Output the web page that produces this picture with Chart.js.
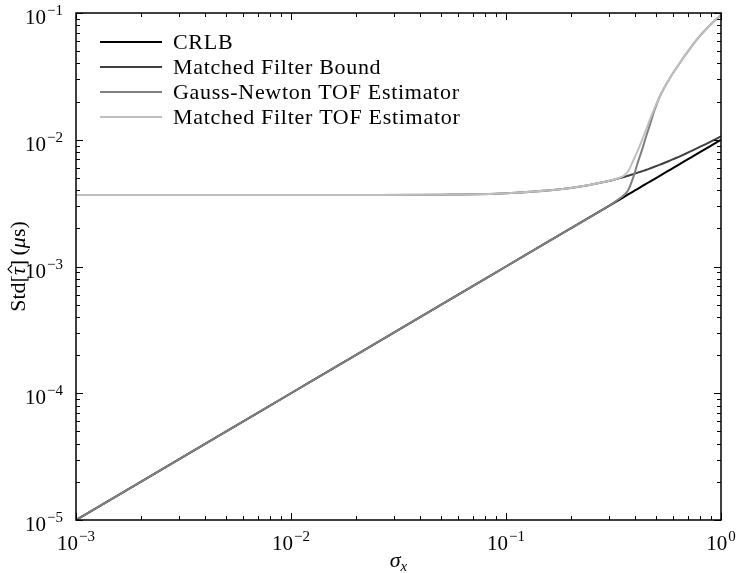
<!DOCTYPE html>
<html>
<head>
<meta charset="utf-8">
<script src="https://cdn.jsdelivr.net/npm/chart.js@4.4.1/dist/chart.umd.min.js"></script>
<style>
  html, body { margin: 0; padding: 0; background: #fff; }
  #wrap { width: 736px; height: 573px; }
</style>
</head>
<body>
<div id="wrap"><canvas id="chart" width="736" height="573"></canvas></div>
<script>
// sigma_x sample points (shared by all four series)
const sigmaX = [0.001, 0.002, 0.005, 0.01, 0.02, 0.05, 0.1, 0.2, 0.3, 0.33, 0.35, 0.37, 0.39,
  0.41, 0.43, 0.45, 0.47, 0.49, 0.51, 0.54, 0.57, 0.6, 0.64, 0.68, 0.73, 0.78, 0.84, 0.9, 0.95, 1.0];

// Std[tau] in microseconds
const crlb = [1e-5, 2e-5, 5e-5, 1e-4, 2e-4, 5e-4, 1e-3, 2e-3, 3e-3, 3.3e-3, 3.5e-3, 3.7e-3, 3.9e-3,
  4.1e-3, 4.3e-3, 4.5e-3, 4.7e-3, 4.9e-3, 5.1e-3, 5.4e-3, 5.7e-3, 6e-3, 6.4e-3, 6.8e-3, 7.3e-3, 7.8e-3, 8.4e-3, 9e-3, 9.5e-3, 1.0e-2];
const mfBound = [3.66e-3, 3.66e-3, 3.66e-3, 3.66e-3, 3.665e-3, 3.69e-3, 3.79e-3, 4.17e-3, 4.73e-3, 4.93e-3, 5.06e-3, 5.2e-3, 5.35e-3,
  5.5e-3, 5.65e-3, 5.8e-3, 5.96e-3, 6.12e-3, 6.28e-3, 6.52e-3, 6.77e-3, 7.03e-3, 7.37e-3, 7.72e-3, 8.17e-3, 8.62e-3, 9.16e-3, 9.72e-3, 1.018e-2, 1.065e-2];
const gaussNewton = [1e-5, 2e-5, 5e-5, 1e-4, 2e-4, 5e-4, 1e-3, 2e-3, 3e-3, 3.35e-3, 3.6e-3, 4.0e-3, 5.0e-3,
  6.6e-3, 8.4e-3, 1.08e-2, 1.36e-2, 1.7e-2, 2.04e-2, 2.5e-2, 2.94e-2, 3.39e-2, 3.98e-2, 4.63e-2, 5.45e-2, 6.31e-2, 7.26e-2, 8.19e-2, 8.93e-2, 9.64e-2];
const mfTof = [3.66e-3, 3.66e-3, 3.66e-3, 3.66e-3, 3.665e-3, 3.69e-3, 3.79e-3, 4.17e-3, 4.73e-3, 4.95e-3, 5.15e-3, 5.65e-3, 6.8e-3,
  8.2e-3, 1.0e-2, 1.22e-2, 1.48e-2, 1.76e-2, 2.06e-2, 2.5e-2, 2.94e-2, 3.39e-2, 3.98e-2, 4.63e-2, 5.45e-2, 6.31e-2, 7.26e-2, 8.19e-2, 8.93e-2, 9.64e-2];

const seriesLabels = ['CRLB', 'Matched Filter Bound', 'Gauss-Newton TOF Estimator', 'Matched Filter TOF Estimator'];
const seriesColors = ['#000000', '#404040', '#808080', '#bfbfbf'];

// decade exponents used for tick labels
const xTickExps = [-3, -2, -1, 0];
const yTickExps = [-5, -4, -3, -2, -1];

const SERIF = '"Liberation Serif", "Times New Roman", serif';

function toPoints(ys) {
  return sigmaX.map((x, i) => ({ x, y: ys[i] }));
}

function drawPow(ctx, exp, x, baseY, align) {
  const base = '10';
  const sup = (exp < 0 ? '\u2212' : '') + Math.abs(exp);
  ctx.font = `21px ${SERIF}`;
  const wb = ctx.measureText(base).width;
  ctx.font = `15px ${SERIF}`;
  const ws = ctx.measureText(sup).width;
  const total = wb + 1 + ws;
  const left = align === 'right' ? x - total : x - total / 2;
  ctx.textAlign = 'left';
  ctx.textBaseline = 'alphabetic';
  ctx.font = `21px ${SERIF}`;
  ctx.fillText(base, left, baseY);
  ctx.font = `15px ${SERIF}`;
  ctx.fillText(sup, left + wb + 1, baseY - 9);
}

// runs: [text, italic, size, dy, hat]; drawn centred on x
function drawRuns(ctx, runs, x, y) {
  const fontOf = r => `${r[1] ? 'italic ' : ''}${r[2] || 22}px ${SERIF}`;
  let total = 0;
  runs.forEach(r => {
    ctx.font = fontOf(r);
    total += ctx.measureText(r[0]).width;
  });
  let cx = x - total / 2;
  runs.forEach(r => {
    ctx.font = fontOf(r);
    const w = ctx.measureText(r[0]).width;
    ctx.fillText(r[0], cx, y + (r[3] || 0));
    if (r[4]) {
      ctx.beginPath();
      ctx.lineWidth = 1.1;
      ctx.moveTo(cx + 2, y - 13);
      ctx.lineTo(cx + w / 2 + 2, y - 17);
      ctx.lineTo(cx + w + 2, y - 13);
      ctx.stroke();
    }
    cx += w;
  });
}

const framePlugin = {
  id: 'frame',
  afterDatasetsDraw(chart) {
    const { ctx, chartArea: a, scales } = chart;
    const xs = scales.x, ys = scales.y;
    ctx.save();
    ctx.strokeStyle = '#000';
    ctx.fillStyle = '#000';

    // minor / major ticks, pointing inward on all four sides
    ctx.lineWidth = 1;
    ctx.beginPath();
    for (let e = -3; e <= 0; e++) {
      for (let m = 1; m <= 9; m++) {
        const v = m * Math.pow(10, e);
        if (v > 1.0001) break;
        const px = Math.round(xs.getPixelForValue(v)) + 0.5;
        const len = m === 1 ? 7 : 4;
        ctx.moveTo(px, a.bottom); ctx.lineTo(px, a.bottom - len);
        ctx.moveTo(px, a.top); ctx.lineTo(px, a.top + len);
      }
    }
    for (let e = -5; e <= -1; e++) {
      for (let m = 1; m <= 9; m++) {
        const v = m * Math.pow(10, e);
        if (v > 0.10001) break;
        const py = Math.round(ys.getPixelForValue(v)) + 0.5;
        const len = m === 1 ? 7 : 4;
        ctx.moveTo(a.left, py); ctx.lineTo(a.left + len, py);
        ctx.moveTo(a.right, py); ctx.lineTo(a.right - len, py);
      }
    }
    ctx.stroke();

    // axes box
    ctx.lineWidth = 1.5;
    ctx.strokeRect(a.left, a.top, a.right - a.left, a.bottom - a.top);

    // tick labels
    xTickExps.forEach(e => drawPow(ctx, e, xs.getPixelForValue(Math.pow(10, e)), 550, 'center'));
    yTickExps.forEach(e => drawPow(ctx, e, 63, ys.getPixelForValue(Math.pow(10, e)) + 11, 'right'));

    // axis titles
    ctx.textAlign = 'left';
    drawRuns(ctx, [['\u03c3', true, 22], ['x', true, 15, 4]], (a.left + a.right) / 2, 567);

    ctx.save();
    ctx.translate(25, (a.top + a.bottom) / 2);
    ctx.rotate(-Math.PI / 2);
    drawRuns(ctx, [['Std[', false], ['\u03c4', true, 22, 0, true], [']\u2009(', false], ['\u03bc', true], ['s)', false]], 0, 0);
    ctx.restore();

    // legend inside the axes, upper left
    ctx.font = `22px ${SERIF}`;
    ctx.textBaseline = 'middle';
    ctx.letterSpacing = '0.7px';
    chart.data.datasets.forEach((ds, i) => {
      const y = 42 + i * 25;
      ctx.strokeStyle = ds.borderColor;
      ctx.lineWidth = 2;
      ctx.beginPath();
      ctx.moveTo(100, y); ctx.lineTo(162, y);
      ctx.stroke();
      ctx.fillStyle = '#000';
      ctx.fillText(ds.label, 173, y + 1);
    });
    ctx.restore();
  }
};

const seriesData = [crlb, mfBound, gaussNewton, mfTof];

new Chart(document.getElementById('chart'), {
  type: 'line',
  data: {
    datasets: seriesData.map((ys, i) => ({
      label: seriesLabels[i],
      data: toPoints(ys),
      borderColor: seriesColors[i],
      backgroundColor: seriesColors[i],
      borderWidth: 2,
      pointRadius: 0,
      fill: false,
      cubicInterpolationMode: 'monotone',
      order: seriesData.length - i,
    }))
  },
  options: {
    responsive: false,
    devicePixelRatio: 1,
    animation: false,
    layout: { padding: { left: 76, top: 13, right: 15, bottom: 53 } },
    plugins: { legend: { display: false }, tooltip: { enabled: false } },
    scales: {
      x: { type: 'logarithmic', min: 1e-3, max: 1, display: false },
      y: { type: 'logarithmic', min: 1e-5, max: 1e-1, display: false },
    }
  },
  plugins: [framePlugin]
});
</script>
</body>
</html>
